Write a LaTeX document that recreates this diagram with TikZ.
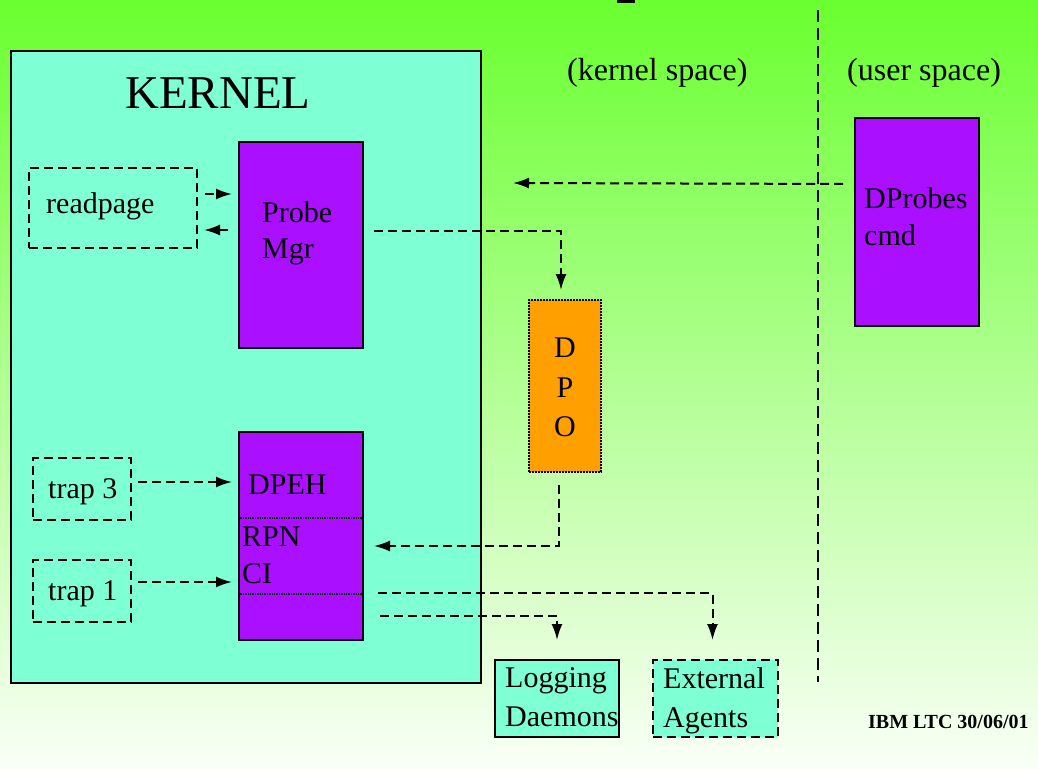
\documentclass[tikz,border=0pt]{standalone}
\usepackage{fontspec}
\setmainfont{Liberation Serif}
\usetikzlibrary{positioning, arrows.meta}

\definecolor{kernelbg}{RGB}{127,255,212}
\definecolor{mgrpurple}{RGB}{170,16,255}
\definecolor{dpoorange}{RGB}{255,160,0}
\definecolor{topgreen}{RGB}{106,255,48}
\definecolor{bottomgreen}{RGB}{250,255,247}

\begin{document}
\begin{tikzpicture}[x=1pt, y=-1pt,
        box/.style = {draw, line width=2pt, rectangle, anchor=north west, inner sep=0pt},
        dashbox/.style = {box, dash pattern=on 9pt off 5pt},
        txt/.style = {inner sep=0pt, anchor=base west, font=\fontsize{30}{36}\selectfont},
        head/.style = {txt, font=\fontsize{32}{38}\selectfont},
        link/.style = {-{Latex[length=16pt,width=11pt]}, line width=2pt, dash pattern=on 9pt off 5pt},
        ]
        % background
        \shade[top color=topgreen, bottom color=bottomgreen] (0,0) rectangle (1038,769);
        \useasboundingbox (0,0) rectangle (1038,769);
        \fill (617,0) rectangle (635,3);

        % kernel side
        \node [box, fill=kernelbg, minimum width=470pt, minimum height=632pt] (kernel) at (10,50) {};
        \node [txt, font=\fontsize{47}{56}\selectfont] (kerneltxt) at (125,108) {KERNEL};
        \node [head] (kspace) at (567,80) {(kernel space)};
        \node [head] (uspace) at (847,80) {(user space)};
        \coordinate (divtop) at (818,10);
        \coordinate (divbot) at (818,682);
        \draw [line width=2pt, dash pattern=on 12pt off 6pt] (divtop) -- (divbot);

        \node [dashbox, minimum width=168pt, minimum height=80pt] (readpage) at (28,167) {};
        \node [txt] (readtxt) at (46,213) {readpage};
        \node [box, fill=mgrpurple, minimum width=124pt, minimum height=206pt] (probemgr) at (238,141) {};
        \node [txt, anchor=north west, align=left] (probetxt) at (262,201) {Probe\\Mgr};

        \node [dashbox, minimum width=98pt, minimum height=62pt] (trap3) at (32,457) {};
        \node [txt] (trap3txt) at (48,498) {trap 3};
        \node [dashbox, minimum width=98pt, minimum height=62pt] (trap1) at (32,559) {};
        \node [txt] (trap1txt) at (48,600) {trap 1};

        \node [box, fill=mgrpurple, minimum width=124pt, minimum height=208pt] (dpeh) at (238,431) {};
        \draw [densely dotted, line width=1.4pt] ([yshift=18pt]dpeh.west) -- ([yshift=18pt]dpeh.east);
        \draw [densely dotted, line width=1.4pt] ([yshift=-58pt]dpeh.west) -- ([yshift=-58pt]dpeh.east);
        \node [txt] (dpehtxt) at (248,494) {DPEH};
        \node [txt] (rpntxt) at (242,546) {RPN};
        \node [txt] (citxt) at (242,583) {CI};

        % outside kernel
        \node [box, densely dotted, fill=dpoorange, minimum width=72pt, minimum height=172pt] (dpo) at (528,299) {};
        \node [txt, anchor=north, align=center, font=\fontsize{30}{39.5}\selectfont] (dpotxt) at (565,338) {D\\P\\O};

        \node [box, fill=mgrpurple, minimum width=124pt, minimum height=208pt] (dprobes) at (854,117) {};
        \node [txt, anchor=north west, align=left, font=\fontsize{30}{37}\selectfont] (dprobestxt) at (864,187) {DProbes\\cmd};
        \coordinate (cmdend) at (513,183);

        \node [box, fill=kernelbg, minimum width=124pt, minimum height=77pt] (logging) at (494,659) {};
        \node [txt, anchor=north west, align=left, font=\fontsize{30}{39}\selectfont] (loggingtxt) at (505,667) {Logging\\Daemons};
        \node [dashbox, fill=kernelbg, minimum width=125pt, minimum height=77pt] (agents) at (652,659) {};
        \node [txt, anchor=north west, align=left, font=\fontsize{30}{39}\selectfont] (agentstxt) at (663,667) {External\\Agents};

        \node [txt, font=\bfseries\fontsize{20}{24}\selectfont] (footer) at (868,728) {IBM LTC 30/06/01};

        % connectors
        \draw [link, shorten <=7pt, shorten >=6pt] ([yshift=14pt]readpage.east) -- ([yshift=14pt]readpage.east -| probemgr.west);
        \draw [link, shorten <=10pt, shorten >=6pt] ([yshift=-22pt]readpage.east -| probemgr.west) -- ([yshift=-22pt]readpage.east);
        \draw [link, shorten <=10pt, shorten >=9pt] ([yshift=14pt]probemgr.east) -| ([xshift=-4pt]dpo.north);
        \draw [link, shorten <=12pt, shorten >=10pt] ([xshift=-6pt]dpo.south) |- ([yshift=-10pt]dpeh.east);
        \draw [link, shorten <=6pt, shorten >=6pt] ([yshift=7pt]trap3.east) -- ([yshift=7pt]trap3.east -| dpeh.west);
        \draw [link, shorten <=6pt, shorten >=6pt] ([yshift=9pt]trap1.east) -- ([yshift=9pt]trap1.east -| dpeh.west);
        \draw [link, shorten <=11pt] ([yshift=38pt]dprobes.west) -- (cmdend);
        \draw [link, shorten <=14pt, shorten >=19pt] ([yshift=-57pt]dpeh.east) -| ([xshift=-3pt]agents.north);
        \draw [link, shorten <=16pt, shorten >=19pt] ([yshift=-80pt]dpeh.east) -| (logging.north);

    \end{tikzpicture}
\end{document}
